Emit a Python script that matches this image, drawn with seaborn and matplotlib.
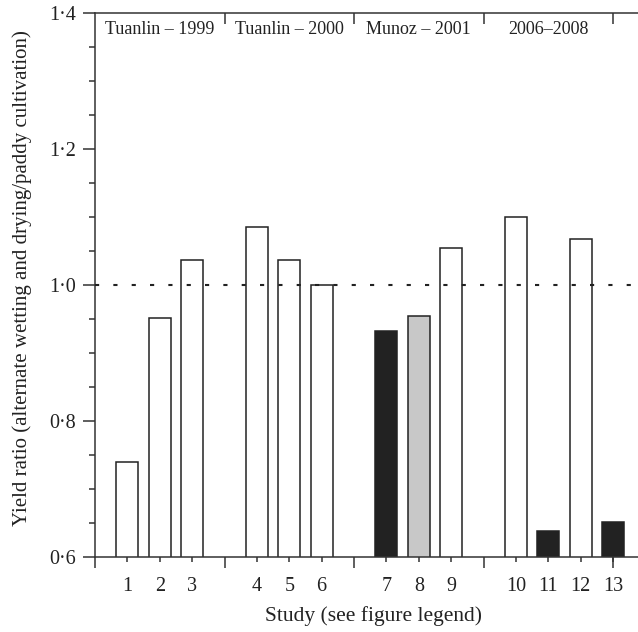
import matplotlib
matplotlib.use("Agg")
import matplotlib.pyplot as plt
import seaborn as sns
import pandas as pd
from matplotlib.ticker import FixedLocator

# ---- data ----
studies = ["1", "2", "3", "4", "5", "6", "7", "8", "9", "10", "11", "12", "13"]
positions = [1, 2, 3, 5, 6, 7, 9, 10, 11, 13, 14, 15, 16]
ratios = [0.739, 0.952, 1.037, 1.085, 1.037, 1.000, 0.932, 0.955, 1.055, 1.100, 0.638, 1.068, 0.651]
bar_colors = ["white", "white", "white", "white", "white", "white", "#222222",
              "#c8c8c8", "white", "white", "#222222", "white", "#222222"]
group_labels = ["Tuanlin \u2013 1999", "Tuanlin \u2013 2000", "Munoz \u2013 2001", "2006\u20132008"]
group_centers = [2, 6, 10, 14]
group_bounds = [4, 8, 12, 16]
yticks = [0.6, 0.8, 1.0, 1.2, 1.4]
ytick_labels = ["0\u00b76", "0\u00b78", "1\u00b70", "1\u00b72", "1\u00b74"]

df = pd.DataFrame({"pos": positions, "study": studies, "ratio": ratios})

sns.set_theme(style="ticks")
plt.rcParams["font.family"] = ["Liberation Serif", "DejaVu Serif"]

fig = plt.figure(figsize=(6.38, 6.32), dpi=100)
ax = fig.add_axes([95 / 638, 75 / 632, 1 - 95 / 638, (557 - 13) / 632])

palette = dict(zip(studies, bar_colors))
sns.barplot(data=df, x="pos", y="ratio", hue="study", palette=palette,
            native_scale=True, dodge=False, width=0.68, legend=False,
            edgecolor="#222222", linewidth=1.1, saturation=1, ax=ax)

ax.set_xlim(0, 16.77)
ax.set_ylim(0.6, 1.4)

# reference line
ax.axhline(1.0, color="#222222", lw=1.5, linestyle=(0, (2, 6.8)), zorder=3)

# spines
for s in ["left", "bottom", "top"]:
    ax.spines[s].set_visible(True)
    ax.spines[s].set_color("#333333")
    ax.spines[s].set_linewidth(1.1)
ax.spines["right"].set_visible(False)

# y ticks
ax.set_yticks(yticks)
ax.set_yticklabels(ytick_labels)
ax.yaxis.set_minor_locator(FixedLocator([0.65, 0.7, 0.75, 0.85, 0.9, 0.95, 1.05, 1.1, 1.15, 1.25, 1.3, 1.35]))
ax.tick_params(axis="y", which="major", direction="out", length=8.6, width=1.1,
               color="#333333", labelsize=14.5, pad=5, right=False)
ax.tick_params(axis="y", which="minor", direction="out", length=4.3, width=1.1,
               color="#333333", right=False, left=True)

# x ticks
ax.set_xticks(positions)
ax.set_xticklabels(studies)
ax.xaxis.remove_overlapping_locs = False
ax.xaxis.set_minor_locator(FixedLocator([0] + group_bounds))
ax.tick_params(axis="x", which="major", direction="out", length=3.6, width=1.1,
               color="#333333", labelsize=14.5, pad=11, top=False)
ax.tick_params(axis="x", which="minor", direction="out", length=8, width=1.1,
               color="#333333", top=False, bottom=True)

# top inward ticks at group boundaries
sec = ax.secondary_xaxis("top")
sec.set_xticks(group_bounds)
sec.set_xticklabels([])
sec.tick_params(direction="in", length=8, width=1.1, color="#333333")
sec.spines["top"].set_visible(False)

for lbl, c in zip(group_labels, group_centers):
    ax.text(c, 1.375, lbl, ha="center", va="center", fontsize=13, color="#222222")

ax.set_xlabel("Study (see figure legend)", fontsize=15.5, color="#222222")
ax.set_ylabel("Yield ratio (alternate wetting and drying/paddy cultivation)",
              fontsize=15, color="#222222")
ax.xaxis.set_label_coords(0.512, -0.090)
ax.yaxis.set_label_coords(-0.1165, 0.513)
for t in ax.get_xticklabels() + ax.get_yticklabels():
    t.set_color("#222222")

fig.savefig("out.png", dpi=100)
